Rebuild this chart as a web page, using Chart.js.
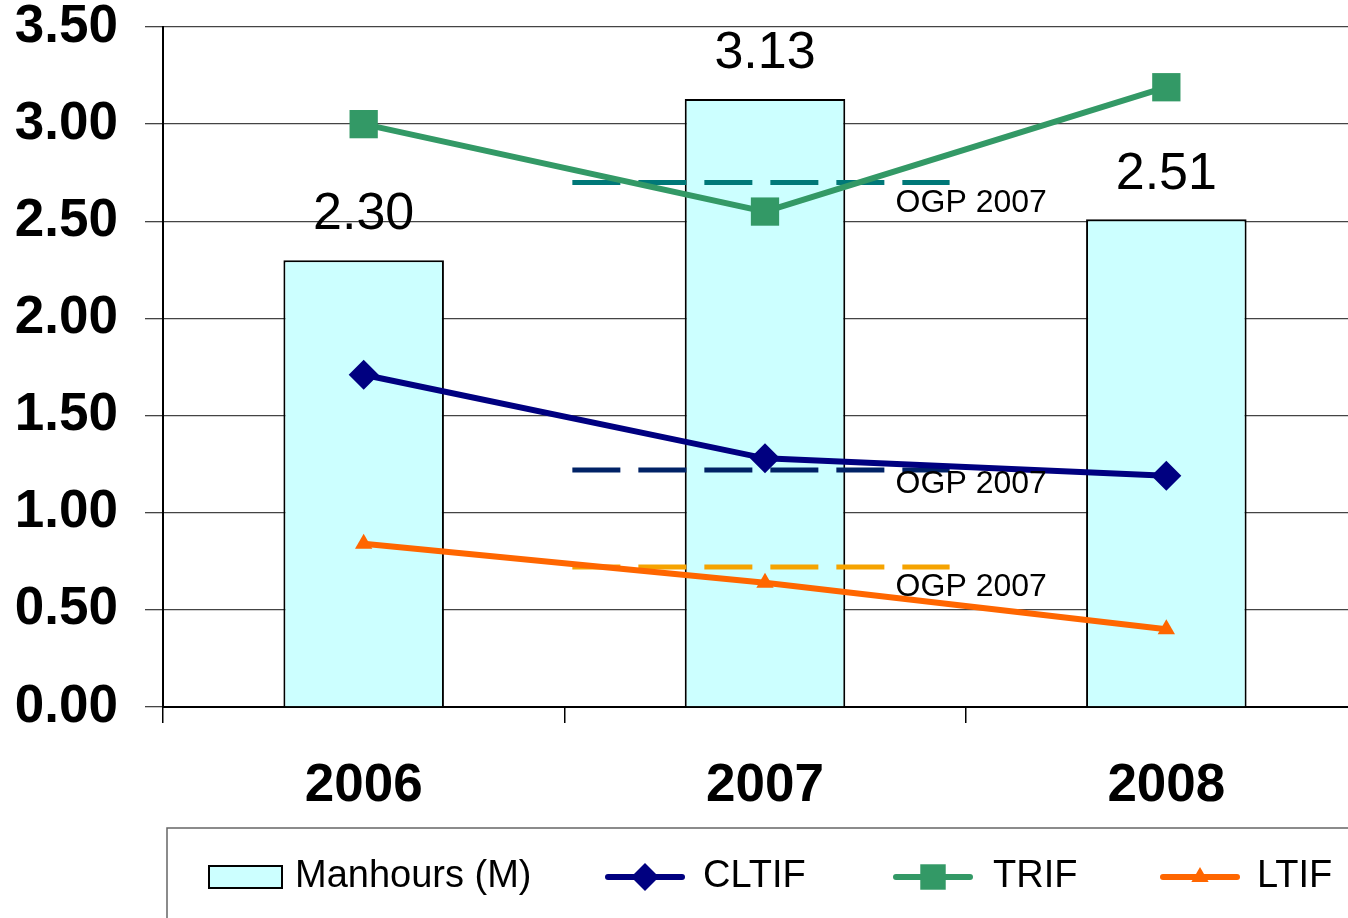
<!DOCTYPE html>
<html>
<head>
<meta charset="utf-8">
<title>Manhours / CLTIF / TRIF / LTIF</title>
<script src="https://cdn.jsdelivr.net/npm/chart.js@4/dist/chart.umd.min.js"></script>
<style>
    html, body { margin: 0; padding: 0; background: #fff; overflow: hidden; }
    #wrap { width: 1348px; height: 918px; }
</style>
</head>
<body>
<div id="wrap"><canvas id="grafico" width="1348" height="918"></canvas></div>
<script>
// ---------- datos ----------
const years     = ["2006", "2007", "2008"];
const manhours  = [2.30, 3.13, 2.51];
const cltif     = [1.71, 1.28, 1.19];
const trif      = [3.00, 2.55, 3.19];
const ltif      = [0.84, 0.64, 0.40];

// referencias OGP 2007 (TRIF, CLTIF, LTIF)
const ogpNames  = ["OGP 2007", "OGP 2007", "OGP 2007"];
const ogpValues = [2.70, 1.22, 0.72];
const ogpSpan   = [0.52, 1.46];   // desde / hasta, en unidades de categoría

const legendNames = ["Manhours (M)", "CLTIF", "TRIF", "LTIF"];

// ---------- estilos ----------
const FONT = "'Liberation Sans', Arial, sans-serif";
const COL_BAR   = "#CCFFFF";
const COL_CLTIF = "#000080";
const COL_TRIF  = "#339966";
const COL_LTIF  = "#FF6600";
const ogpColors = ["#007878", "#002266", "#F5A300"];
const ogpLabelDy = [21, 14, 20];
const PLOT_W = 1204;   // el área del gráfico sigue más allá del borde derecho (recortada)

// pixel x para una posición (en categorías) sobre la escala x
function catPixel(xs, pos) {
    const p0 = xs.getPixelForValue(0);
    const p1 = xs.getPixelForValue(1);
    return p0 + pos * (p1 - p0);
}

// ensancha el área del gráfico para que la última categoría quede cortada
const ensanchar = {
    id: "ensanchar",
    afterLayout(chart) {
        const area = chart.chartArea;
        const xs = chart.scales.x;
        area.right = area.left + PLOT_W;
        area.width = PLOT_W;
        xs.right = area.right;
        xs.width = PLOT_W;
        xs.configure();
    }
};

// líneas OGP: se dibujan después de las barras y antes de las líneas
const lineasOgp = {
    id: "lineasOgp",
    afterDatasetDraw(chart, args) {
        if (args.index !== 0) return;
        const ctx = chart.ctx;
        const xs = chart.scales.x, ys = chart.scales.y;
        const x1 = catPixel(xs, ogpSpan[0]);
        const x2 = catPixel(xs, ogpSpan[1]);
        ctx.save();
        ctx.lineWidth = 5;
        ctx.setLineDash([48, 18]);
        ogpValues.forEach((v, i) => {
            const y = ys.getPixelForValue(v);
            ctx.strokeStyle = ogpColors[i];
            ctx.beginPath();
            ctx.moveTo(x1, y);
            ctx.lineTo(x2, y);
            ctx.stroke();
        });
        ctx.restore();
    }
};

// etiquetas sobre las barras + textos OGP
const etiquetas = {
    id: "etiquetas",
    afterDatasetsDraw(chart) {
        const ctx = chart.ctx;
        ctx.save();
        ctx.fillStyle = "#000";
        ctx.textAlign = "center";
        ctx.textBaseline = "middle";
        ctx.font = "52px " + FONT;
        chart.getDatasetMeta(0).data.forEach((bar, i) => {
            ctx.fillText(manhours[i].toFixed(2), bar.x, bar.y - 45);
        });

        ctx.font = "32px " + FONT;
        ctx.textAlign = "left";
        const xEnd = catPixel(chart.scales.x, ogpSpan[1]);
        ogpValues.forEach((v, i) => {
            ctx.fillText(ogpNames[i], xEnd - 54, chart.scales.y.getPixelForValue(v) + ogpLabelDy[i]);
        });
        ctx.restore();
    }
};

// leyenda dibujada a mano (línea + marcador como en Excel)
const leyenda = {
    id: "leyenda",
    afterDraw(chart) {
        const ctx = chart.ctx;
        const top = 828, cy = 877;
        ctx.save();
        ctx.strokeStyle = "#666";
        ctx.lineWidth = 1.5;
        ctx.beginPath();
        ctx.moveTo(167, chart.height);
        ctx.lineTo(167, top);
        ctx.lineTo(chart.width, top);
        ctx.stroke();

        ctx.font = "38px " + FONT;
        ctx.textBaseline = "middle";
        ctx.textAlign = "left";

        // Manhours
        ctx.fillStyle = COL_BAR;
        ctx.strokeStyle = "#000";
        ctx.lineWidth = 2;
        ctx.fillRect(209, 866, 73, 22);
        ctx.strokeRect(209, 866, 73, 22);
        ctx.fillStyle = "#000";
        ctx.fillText(legendNames[0], 295, cy);

        const items = [
            { x: 605, color: COL_CLTIF, style: "rectRot", r: 14, text: legendNames[1], tx: 703 },
            { x: 893, color: COL_TRIF,  style: "rect",    r: 18, text: legendNames[2], tx: 993 },
            { x: 1160, color: COL_LTIF, style: "triangle", r: 10, text: legendNames[3], tx: 1257 }
        ];
        items.forEach(it => {
            ctx.strokeStyle = it.color;
            ctx.lineWidth = 6;
            ctx.lineCap = "round";
            ctx.beginPath();
            ctx.moveTo(it.x + 3, cy);
            ctx.lineTo(it.x + 77, cy);
            ctx.stroke();
            ctx.fillStyle = it.color;
            Chart.helpers.drawPoint(ctx, { pointStyle: it.style, radius: it.r, rotation: 0, borderWidth: 0 }, it.x + 40, cy);
            ctx.fillStyle = "#000";
            ctx.fillText(it.text, it.tx, cy);
        });
        ctx.restore();
    }
};

function lineDataset(name, data, color, style, radius) {
    return {
        type: "line",
        label: name,
        data: data,
        borderColor: color,
        backgroundColor: color,
        borderWidth: 6,
        pointStyle: style,
        pointRadius: radius,
        pointBorderWidth: 0,
        tension: 0,
        order: 1
    };
}

const ctx = document.getElementById("grafico").getContext("2d");
new Chart(ctx, {
    type: "bar",
    data: {
        labels: years,
        datasets: [
            {
                label: legendNames[0],
                data: manhours,
                backgroundColor: COL_BAR,
                borderColor: "#000",
                borderWidth: 2,
                barPercentage: 0.4,
                categoryPercentage: 1,
                order: 3
            },
            lineDataset(legendNames[1], cltif, COL_CLTIF, "rectRot", 15),
            lineDataset(legendNames[2], trif,  COL_TRIF,  "rect", 20),
            lineDataset(legendNames[3], ltif,  COL_LTIF,  "triangle", 10)
        ]
    },
    options: {
        responsive: false,
        animation: false,
        layout: { padding: { top: 27, right: 0, bottom: 90, left: 0 } },
        plugins: {
            legend: { display: false },
            tooltip: { enabled: false }
        },
        scales: {
            x: {
                offset: true,
                grid: { offset: true, drawOnChartArea: false, tickLength: 16, color: "#000", lineWidth: 1.5 },
                border: { color: "#000", width: 2 },
                ticks: { color: "#000", padding: 32, font: { family: FONT, size: 53, weight: "bold" } },
                afterFit(scale) {
                    scale.height = 121;
                    scale.paddingLeft = 0;
                    scale.paddingRight = 0;
                }
            },
            y: {
                min: 0,
                max: 3.5,
                ticks: {
                    stepSize: 0.5,
                    color: "#000",
                    padding: 27,
                    font: { family: FONT, size: 53, weight: "bold" },
                    callback: v => v.toFixed(2)
                },
                grid: { color: "#444", lineWidth: 1.3, tickLength: 18 },
                border: { color: "#000", width: 2 },
                afterFit(scale) {
                    scale.width = 163;
                    scale.paddingTop = 0;
                    scale.paddingBottom = 0;
                }
            }
        }
    },
    plugins: [ensanchar, lineasOgp, etiquetas, leyenda]
});
</script>
</body>
</html>
